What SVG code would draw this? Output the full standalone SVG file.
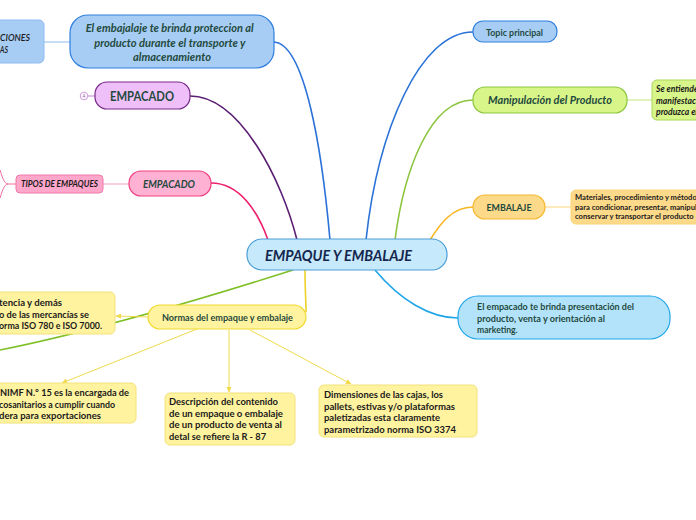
<svg xmlns="http://www.w3.org/2000/svg" width="696" height="520" viewBox="0 0 696 520">
<defs>
<style>
text{font-family:Lato,"Open Sans","Liberation Sans",sans-serif}
.t{fill:#1f4a3d;font-weight:bold}
.c{fill:#1a1a1a;font-weight:bold;font-size:8.6px}
.ch{fill:#fff3a0;stroke:#f3e27a;stroke-width:1}
.br{fill:none;stroke-width:1.6}
.sub{fill:none;stroke-width:1}
.ar{fill:none;stroke:#f0da4a;stroke-width:1;marker-end:url(#ah)}
</style>
<marker id="ah" viewBox="0 0 8 8" refX="7" refY="4" markerWidth="6" markerHeight="6" orient="auto"><path d="M0,0.5 L8,4 L0,7.5 Z" fill="#f0da4a"/></marker>
</defs>
<rect width="696" height="520" fill="#ffffff"/>

<g id="connectors">
<path class="br" stroke="#2a72d8" d="M274,42 C305,44 322,150 330,240"/>
<path class="br" stroke="#5b1e72" d="M190,96 C240,96 282,180 297,240"/>
<path class="br" stroke="#ee1f6d" d="M211,183 C240,183 258,212 268,240"/>
<path class="br" stroke="#2a72d8" d="M473,32 C420,32 378,130 366,240"/>
<path class="br" stroke="#8cc63f" d="M473,100 C430,100 404,170 395,240"/>
<path class="br" stroke="#f9b520" d="M473,207 C452,207 440,224 430,240"/>
<path class="br" stroke="#1fa6e9" d="M375,270 C400,300 430,318 458,318"/>
<path class="br" stroke="#ecd22a" d="M305,270 C305,290 306,300 306,312"/>
<path class="br" stroke="#7fbf26" stroke-width="2" d="M293,270 C230,290 100,330 0,350"/>
<path class="sub" stroke="#8fbcf0" d="M44,42 L70,42"/>
<path class="sub" stroke="#c080d0" d="M88,96 L95,96"/>
<path class="sub" stroke="#f7a0c6" d="M103,184 L129,184"/>
<path class="sub" stroke="#f06aa0" d="M16,184 L8,184 M8,184 C4,184 2,176 0,170 M8,184 C4,184 2,192 0,198"/>
<path class="sub" stroke="#bfe37a" d="M627,100 L652,100"/>
<path class="sub" stroke="#fbd57a" d="M545,207 L571,207"/>
<path class="ar" d="M148,317 L116,316"/>
<path class="ar" d="M197,329 L62,383"/>
<path class="ar" d="M229,330 L229,392"/>
<path class="ar" d="M250,330 L351,384"/>
</g>

<g id="n-central">
<rect x="247" y="239" width="200" height="31" rx="15" fill="#c6e9fb" stroke="#4a9ed8" stroke-width="1.2"/>
<text x="265" y="261" font-size="16" font-weight="bold" font-style="italic" fill="#14264d" textLength="147" lengthAdjust="spacingAndGlyphs">EMPAQUE Y EMBALAJE</text>
</g>

<g id="n-proteccion">
<rect x="70" y="15" width="204" height="53" rx="18" fill="#a8cdf5" stroke="#2f7fe0" stroke-width="1.2"/>
<text class="t" font-style="italic" font-size="12" font-weight="600" text-anchor="middle">
<tspan x="171" y="32" textLength="168" lengthAdjust="spacingAndGlyphs">El embajalaje te brinda proteccion al</tspan>
<tspan x="171" y="47" textLength="151" lengthAdjust="spacingAndGlyphs">producto durante el transporte y</tspan>
<tspan x="172" y="61" textLength="78" lengthAdjust="spacingAndGlyphs">almacenamiento</tspan>
</text>
</g>

<g id="n-cut-left">
<rect x="-6" y="20" width="50" height="43" rx="5" fill="#a8cdf5" stroke="#8fbcf0" stroke-width="1"/>
<text font-size="9" font-style="italic" font-weight="600" fill="#1a1a1a">
<tspan x="0" y="41" textLength="30" lengthAdjust="spacingAndGlyphs">CIONES</tspan>
<tspan x="0" y="53" textLength="8" lengthAdjust="spacingAndGlyphs">AS</tspan>
</text>
</g>

<g id="n-empacado1">
<circle cx="84" cy="96" r="3.8" fill="#ffffff" stroke="#c080d0" stroke-width="0.8"/>
<text x="84" y="97.8" font-size="5" fill="#9a60b0" text-anchor="middle">4</text>
<rect x="95" y="82" width="95" height="27" rx="12" fill="#eebff8" stroke="#7a2a8a" stroke-width="1.2"/>
<text class="t" x="142" y="101" font-size="13" text-anchor="middle" textLength="64" lengthAdjust="spacingAndGlyphs">EMPACADO</text>
</g>

<g id="n-empacado2">
<rect x="129" y="171" width="82" height="25" rx="12" fill="#ffb1d4" stroke="#f0407f" stroke-width="1.2"/>
<text class="t" x="169" y="187.5" font-size="11.5" font-weight="normal" font-style="italic" text-anchor="middle" textLength="52" lengthAdjust="spacingAndGlyphs">EMPACADO</text>
</g>

<g id="n-tipos">
<rect x="16" y="175" width="87" height="18" rx="4" fill="#ffa6cb" stroke="#f07aa8" stroke-width="1"/>
<text x="21" y="187" font-size="8.5" font-style="italic" font-weight="bold" fill="#1a1a1a" textLength="77" lengthAdjust="spacingAndGlyphs">TIPOS DE EMPAQUES</text>
</g>

<g id="n-topic">
<rect x="473" y="21" width="84" height="21" rx="10" fill="#a8cdf5" stroke="#2f7fe0" stroke-width="1.2"/>
<text class="t" x="486" y="35.5" font-size="8.5" textLength="57" lengthAdjust="spacingAndGlyphs">Topic principal</text>
</g>

<g id="n-manipulacion">
<rect x="473" y="87" width="154" height="26" rx="12" fill="#d8f58a" stroke="#8cc63f" stroke-width="1.2"/>
<text class="t" x="488" y="104" font-size="12" font-weight="normal" font-style="italic" textLength="124" lengthAdjust="spacingAndGlyphs">Manipulación del Producto</text>
</g>

<g id="n-se-entiende">
<rect x="652" y="80" width="54" height="40" rx="5" fill="#d8f58a" stroke="#a8d65a" stroke-width="1"/>
<text font-size="8.6" font-style="italic" font-weight="bold" fill="#1a1a1a">
<tspan x="656" y="92">Se entiende</tspan>
<tspan x="656" y="103.5">manifestación</tspan>
<tspan x="656" y="115">produzca el</tspan>
</text>
</g>

<g id="n-embalaje">
<rect x="473" y="195" width="72" height="24" rx="12" fill="#fdd98a" stroke="#f5b82e" stroke-width="1.2"/>
<text class="t" x="509" y="210.5" font-size="10" text-anchor="middle" textLength="45" lengthAdjust="spacingAndGlyphs">EMBALAJE</text>
</g>

<g id="n-materiales">
<rect x="571" y="190" width="132" height="34" rx="5" fill="#fdd98a" stroke="#fbd57a" stroke-width="1"/>
<text font-size="7.6" font-weight="bold" fill="#1a1a1a">
<tspan x="575" y="200">Materiales, procedimiento y métodos</tspan>
<tspan x="575" y="209.5">para condicionar, presentar, manipular,</tspan>
<tspan x="575" y="219">conservar y transportar el producto</tspan>
</text>
</g>

<g id="n-presentacion">
<rect x="458" y="296" width="212" height="43" rx="20" fill="#b3e3fb" stroke="#1fa6e9" stroke-width="1.2"/>
<text class="t" font-size="8.6">
<tspan x="477" y="310" textLength="157" lengthAdjust="spacingAndGlyphs">El empacado te brinda presentación del</tspan>
<tspan x="477" y="321.5" textLength="128" lengthAdjust="spacingAndGlyphs">producto, venta y orientación al</tspan>
<tspan x="477" y="333">marketing.</tspan>
</text>
</g>

<g id="n-normas">
<rect x="148" y="305" width="158" height="24" rx="12" fill="#fff3a0" stroke="#f0d930" stroke-width="1.2"/>
<text class="t" x="162" y="321" font-size="8.6" textLength="131" lengthAdjust="spacingAndGlyphs">Normas del empaque y embalaje</text>
</g>

<g id="n-iso780">
<rect class="ch" x="-6" y="292" width="121" height="42" rx="5"/>
<text class="c">
<tspan x="-1" y="306" textLength="63" lengthAdjust="spacingAndGlyphs">tencia y demás</tspan>
<tspan x="-1" y="317.5" textLength="90" lengthAdjust="spacingAndGlyphs">o de las mercancías se</tspan>
<tspan x="-1" y="329" textLength="103" lengthAdjust="spacingAndGlyphs">orma ISO 780 e ISO 7000.</tspan>
</text>
</g>

<g id="n-nimf">
<rect class="ch" x="-6" y="383" width="142" height="40" rx="5"/>
<text class="c">
<tspan x="0" y="396" textLength="129" lengthAdjust="spacingAndGlyphs">NIMF N.° 15 es la encargada de</tspan>
<tspan x="-1" y="407.5" textLength="116" lengthAdjust="spacingAndGlyphs">cosanitarios a cumplir cuando</tspan>
<tspan x="-1" y="419" textLength="102" lengthAdjust="spacingAndGlyphs">dera para exportaciones</tspan>
</text>
</g>

<g id="n-descripcion">
<rect class="ch" x="165" y="393" width="130" height="52" rx="5"/>
<text class="c">
<tspan x="169" y="405" textLength="109" lengthAdjust="spacingAndGlyphs">Descripción del contenido</tspan>
<tspan x="169" y="416.5" textLength="114" lengthAdjust="spacingAndGlyphs">de un empaque o embalaje</tspan>
<tspan x="169" y="428" textLength="113" lengthAdjust="spacingAndGlyphs">de un producto de venta al</tspan>
<tspan x="169" y="440" textLength="97" lengthAdjust="spacingAndGlyphs">detal se refiere la R - 87</tspan>
</text>
</g>

<g id="n-dimensiones">
<rect class="ch" x="319" y="385" width="158" height="52" rx="5"/>
<text class="c">
<tspan x="324" y="398" textLength="119" lengthAdjust="spacingAndGlyphs">Dimensiones de las cajas, los</tspan>
<tspan x="324" y="409.5" textLength="131" lengthAdjust="spacingAndGlyphs">pallets, estivas y/o plataformas</tspan>
<tspan x="324" y="421" textLength="116" lengthAdjust="spacingAndGlyphs">paletizadas esta claramente</tspan>
<tspan x="324" y="432.5" textLength="132" lengthAdjust="spacingAndGlyphs">parametrizado norma ISO 3374</tspan>
</text>
</g>
</svg>
